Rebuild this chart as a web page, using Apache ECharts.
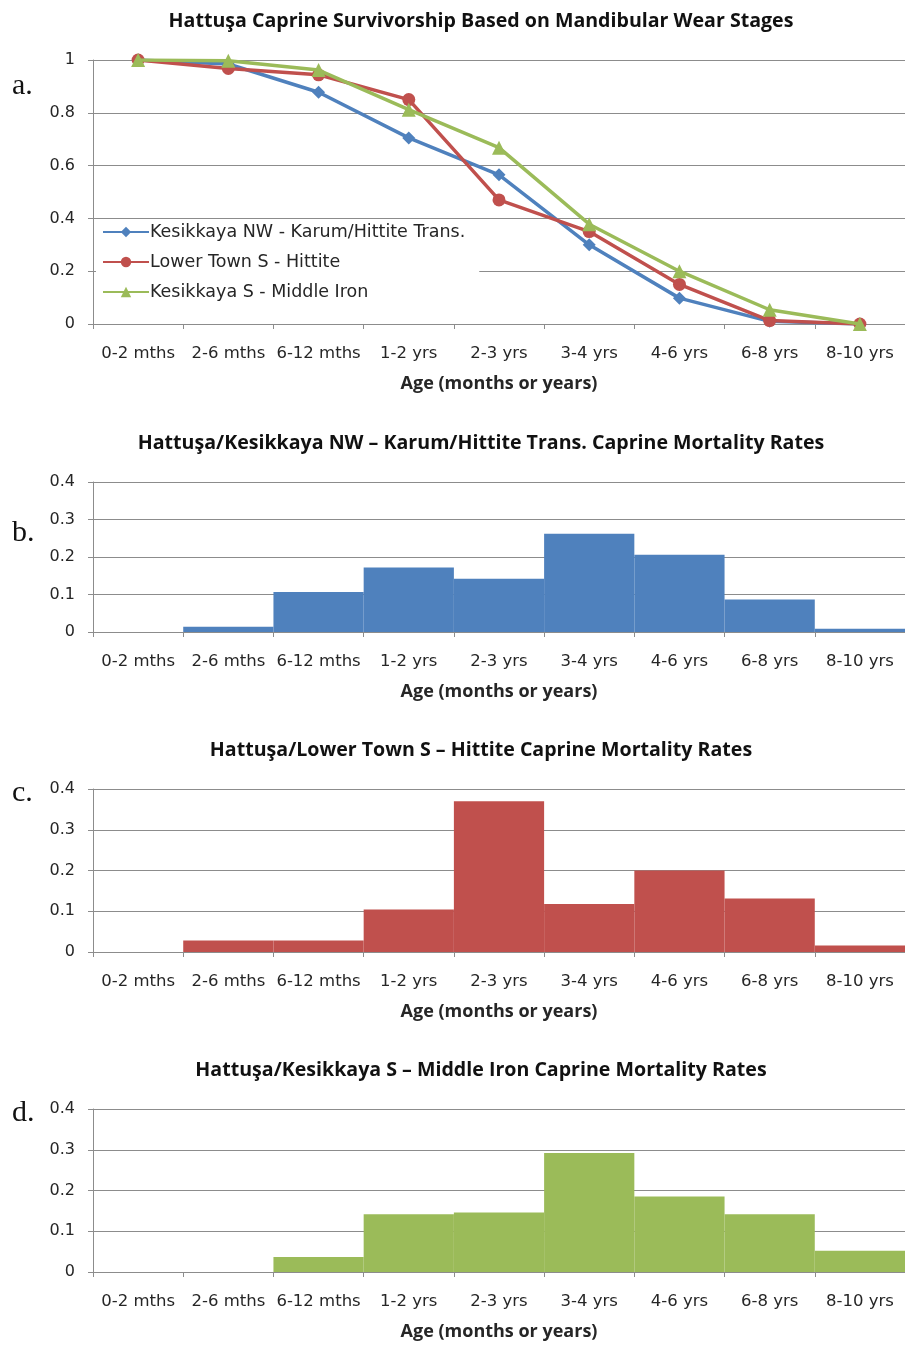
<!DOCTYPE html>
<html>
<head>
<meta charset="utf-8">
<script src="https://cdn.jsdelivr.net/npm/echarts@6/dist/echarts.min.js"></script>
<style>
html,body{margin:0;padding:0;background:#fff;}
#chart{width:905px;height:1346px;}
</style>
</head>
<body>
<div id="chart"></div>
<script>
const categories = ['0-2 mths','2-6 mths','6-12 mths','1-2 yrs','2-3 yrs','3-4 yrs','4-6 yrs','6-8 yrs','8-10 yrs'];
const survNW = [1, 0.985, 0.878, 0.705, 0.565, 0.30, 0.098, 0.01, 0];
const survLT = [1, 0.968, 0.944, 0.85, 0.47, 0.35, 0.15, 0.013, 0];
const survKS = [1, 0.997, 0.962, 0.812, 0.668, 0.378, 0.20, 0.054, 0];
const mortNW = [0, 0.014, 0.107, 0.172, 0.142, 0.262, 0.206, 0.087, 0.009];
const mortLT = [0, 0.028, 0.028, 0.104, 0.370, 0.118, 0.200, 0.131, 0.016];
const mortKS = [0, 0, 0.037, 0.142, 0.146, 0.292, 0.185, 0.142, 0.052];

const seriesNames = ['Kesikkaya NW - Karum/Hittite Trans.', 'Lower Town S - Hittite', 'Kesikkaya S - Middle Iron'];
const titles = [
  'Hattuşa Caprine Survivorship Based on Mandibular Wear Stages',
  'Hattuşa/Kesikkaya NW – Karum/Hittite Trans. Caprine Mortality Rates',
  'Hattuşa/Lower Town S – Hittite Caprine Mortality Rates',
  'Hattuşa/Kesikkaya S – Middle Iron Caprine Mortality Rates'
];
const panelLetters = ['a.', 'b.', 'c.', 'd.'];
const axisName = 'Age (months or years)';

const BLUE = '#4F81BD', RED = '#C0504D', GREEN = '#9BBB59';
const GRIDC = '#8c8c8c';
const TXT = '#262626';
const FONT = 'DejaVu Sans';
const TFONT = 'Open Sans';

const grids = [
  {left: 93, right: 0, top: 60, height: 264},
  {left: 93, right: 0, top: 482, height: 150},
  {left: 93, right: 0, top: 789, height: 163},
  {left: 93, right: 0, top: 1109, height: 163}
];
const titleTops = [11, 433, 740, 1060];
const letterYs = [88, 535, 795, 1115];

function xAxis(i) {
  return {
    type: 'category', gridIndex: i, data: categories, boundaryGap: true,
    axisLine: {lineStyle: {color: GRIDC, width: 1}},
    axisTick: {show: true, length: 5, alignWithLabel: false, lineStyle: {color: GRIDC}},
    axisLabel: {color: TXT, fontFamily: FONT, fontSize: 16.5, margin: 21, interval: 0},
    name: axisName, nameLocation: 'middle', nameGap: 51,
    nameTextStyle: {color: TXT, fontFamily: TFONT, fontWeight: 'bold', fontSize: 18}
  };
}
function yAxis(i, max, interval) {
  return {
    type: 'value', gridIndex: i, min: 0, max: max, interval: interval,
    axisLine: {show: true, lineStyle: {color: GRIDC, width: 1}},
    axisTick: {show: true, length: 5, lineStyle: {color: GRIDC}},
    splitLine: {show: true, lineStyle: {color: GRIDC, width: 1}},
    axisLabel: {color: TXT, fontFamily: FONT, fontSize: 16, margin: 18}
  };
}

const option = {
  backgroundColor: '#fff',
  animation: false,
  title: titles.map((t, i) => ({
    text: t, left: 481, top: titleTops[i], textAlign: 'center', padding: 0,
    textStyle: {color: '#111', fontFamily: TFONT, fontWeight: 'bold', fontSize: 19.6}
  })),
  grid: grids,
  xAxis: [0,1,2,3].map(xAxis),
  yAxis: [yAxis(0, 1, 0.2), yAxis(1, 0.4, 0.1), yAxis(2, 0.4, 0.1), yAxis(3, 0.4, 0.1)],
  legend: {
    orient: 'vertical', left: 96, top: 221,
    data: seriesNames,
    itemWidth: 46, itemHeight: 13, itemGap: 12,
    backgroundColor: '#fff', padding: [2, 14, 6, 6],
    textStyle: {color: TXT, fontFamily: FONT, fontSize: 17.5, padding: [0,0,0,-4]}
  },
  graphic: panelLetters.map((l, i) => ({
    type: 'text', left: 12, top: letterYs[i] - 17,
    style: {text: l, fill: '#111', font: '30px "Liberation Serif"'}
  })),
  series: [
    {name: seriesNames[0], type: 'line', xAxisIndex: 0, yAxisIndex: 0, data: survNW,
     symbol: 'diamond', symbolSize: 13, lineStyle: {color: BLUE, width: 3.5}, itemStyle: {color: BLUE}, z: 3},
    {name: seriesNames[1], type: 'line', xAxisIndex: 0, yAxisIndex: 0, data: survLT,
     symbol: 'circle', symbolSize: 13, lineStyle: {color: RED, width: 3.5}, itemStyle: {color: RED}, z: 4},
    {name: seriesNames[2], type: 'line', xAxisIndex: 0, yAxisIndex: 0, data: survKS,
     symbol: 'triangle', symbolSize: 14, lineStyle: {color: GREEN, width: 3.5}, itemStyle: {color: GREEN}, z: 5},
    {type: 'bar', xAxisIndex: 1, yAxisIndex: 1, data: mortNW, barCategoryGap: '0%', itemStyle: {color: BLUE}},
    {type: 'bar', xAxisIndex: 2, yAxisIndex: 2, data: mortLT, barCategoryGap: '0%', itemStyle: {color: RED}},
    {type: 'bar', xAxisIndex: 3, yAxisIndex: 3, data: mortKS, barCategoryGap: '0%', itemStyle: {color: GREEN}}
  ]
};

const chart = echarts.init(document.getElementById('chart'), null, {renderer: 'canvas'});
chart.setOption(option);
</script>
</body>
</html>
